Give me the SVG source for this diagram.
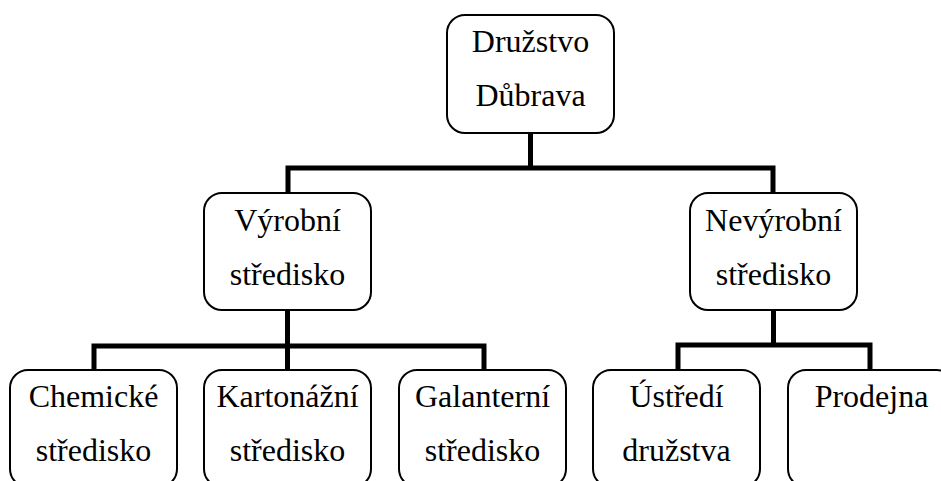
<svg xmlns="http://www.w3.org/2000/svg" width="941" height="481" viewBox="0 0 941 481">
<style>
.box{fill:#fff;stroke:#000;stroke-width:2}
.t{font-family:'Liberation Serif','Tinos','Times New Roman','DejaVu Serif',serif;font-size:32px;fill:#000;text-anchor:middle}
.c{fill:none;stroke:#000;stroke-width:5}
</style>
<rect width="941" height="481" fill="#fff"/>
<g id="connectors">
<path class="c" d="M530.5,133 V168 M288,168 H773 M288,165.5 V193 M773,165.5 V193"/>
<path class="c" d="M287.5,310 V346 M94,346 H484 M94,343.5 V370 M287.5,343.5 V370 M484,343.5 V370"/>
<path class="c" d="M773.5,310 V345 M678,345 H870 M678,342.5 V370 M870,342.5 V370"/>
</g>
<g id="n-druzstvo"><rect class="box" x="447" y="15" width="167" height="118" rx="18"/><text class="t" x="530.5" y="52">Družstvo</text><text class="t" x="530.5" y="106">Důbrava</text></g>
<g id="n-vyrobni"><rect class="box" x="204" y="193" width="167" height="117" rx="18"/><text class="t" x="287.5" y="231">Výrobní</text><text class="t" x="287.5" y="285">středisko</text></g>
<g id="n-nevyrobni"><rect class="box" x="690" y="193" width="167" height="117" rx="18"/><text class="t" x="773.5" y="231">Nevýrobní</text><text class="t" x="773.5" y="285">středisko</text></g>
<g id="n-chemicke"><rect class="box" x="10" y="370" width="167" height="117" rx="18"/><text class="t" x="93.5" y="407">Chemické</text><text class="t" x="93.5" y="461">středisko</text></g>
<g id="n-kartonazni"><rect class="box" x="204" y="370" width="167" height="117" rx="18"/><text class="t" x="287.5" y="407">Kartonážní</text><text class="t" x="287.5" y="461">středisko</text></g>
<g id="n-galanterni"><rect class="box" x="399" y="370" width="167" height="117" rx="18"/><text class="t" x="482.5" y="407">Galanterní</text><text class="t" x="482.5" y="461">středisko</text></g>
<g id="n-ustredi"><rect class="box" x="593" y="370" width="167" height="117" rx="18"/><text class="t" x="676.5" y="407">Ústředí</text><text class="t" x="676.5" y="461">družstva</text></g>
<g id="n-prodejna"><rect class="box" x="788" y="370" width="167" height="117" rx="18"/><text class="t" x="871.5" y="407">Prodejna</text></g>
</svg>
